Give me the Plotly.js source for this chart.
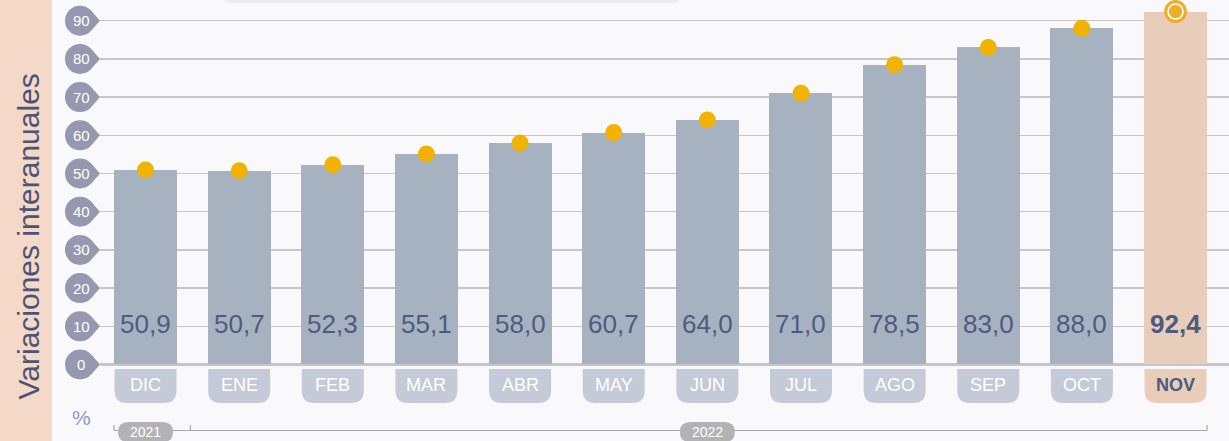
<!DOCTYPE html>
<html>
<head>
<meta charset="utf-8">
<script src="https://cdn.plot.ly/plotly-3.0.1.min.js"></script>
<style>
  html, body { margin: 0; padding: 0; background: #f9f9fb; }
  #chart { width: 1229px; height: 441px; }
</style>
</head>
<body>
<div id="chart"></div>
<script>
// ---- data ----
const months = ['DIC','ENE','FEB','MAR','ABR','MAY','JUN','JUL','AGO','SEP','OCT','NOV'];
const values = [50.9, 50.7, 52.3, 55.1, 58.0, 60.7, 64.0, 71.0, 78.5, 83.0, 88.0, 92.4];
const yTicks = [0, 10, 20, 30, 40, 50, 60, 70, 80, 90];
const yearLabels = ['2021', '2022'];
const yearFirstMonth = [0, 1];
const yearLastMonth = [0, 11];
const yTitle = 'Variaciones interanuales';
const unitLabel = '%';

// ---- style ----
const FONT = 'Liberation Sans, Arial, Helvetica, sans-serif';
const BAR = '#a7b2c0', BAR_HI = '#e8cdbb';
const TAB = '#c4cad7', TAB_HI = '#e9cdb9';
const DOT = '#f1b300', DOT_HI = '#efae2a';
const TXT = '#4e5a80';
const BUBBLE = '#9598ae';
const last = months.length - 1;
const idx = months.map((m, i) => i);
const barW = 0.673;

const traces = [
  {
    type: 'bar', x: idx, y: values, width: barW,
    marker: { color: idx.map(i => i === last ? BAR_HI : BAR), line: { width: 0 } },
    hoverinfo: 'skip'
  },
  {
    type: 'scatter', mode: 'markers', x: idx.slice(0, last), y: values.slice(0, last),
    marker: { size: 17, color: DOT, line: { width: 0 } }, cliponaxis: false, hoverinfo: 'skip'
  },
  {
    type: 'scatter', mode: 'markers', x: [last], y: [values[last]],
    marker: { size: 23, color: DOT_HI, line: { width: 0 } }, cliponaxis: false, hoverinfo: 'skip'
  },
  {
    type: 'scatter', mode: 'markers', x: [last], y: [values[last]],
    marker: { size: 15, color: DOT_HI, line: { width: 1.6, color: '#ffffff' } }, cliponaxis: false, hoverinfo: 'skip'
  }
];

const shapes = [];
const annotations = [];

// left salmon panel
shapes.push({ type: 'rect', xref: 'paper', yref: 'paper', xsizemode: 'pixel', xanchor: 0,
  x0: -100, x1: -48, y0: 0, y1: 1, fillcolor: '#f4d8c8', line: { width: 0 }, layer: 'below' });
// top cut-off box
shapes.push({ type: 'path', xref: 'paper', yref: 'paper', xsizemode: 'pixel', ysizemode: 'pixel',
  xanchor: 0, yanchor: 1,
  path: 'M 123,20 L 123,5 Q 123,-3 131,-3 L 572,-3 Q 580,-3 580,5 L 580,20 Z',
  fillcolor: '#ececf0', line: { width: 0 }, layer: 'above' });

// y tick bubbles
yTicks.forEach(v => {
  shapes.push({ type: 'circle', xref: 'paper', yref: 'y', xsizemode: 'pixel', ysizemode: 'pixel',
    xanchor: 0, yanchor: v, x0: -35, x1: -5, y0: -15, y1: 15,
    fillcolor: BUBBLE, line: { width: 0 }, layer: 'above' });
  shapes.push({ type: 'path', xref: 'paper', yref: 'y', xsizemode: 'pixel', ysizemode: 'pixel',
    xanchor: 0, yanchor: v, path: 'M 0,0 L -8.75,9.9 L -8.75,-9.9 Z',
    fillcolor: BUBBLE, line: { width: 0 }, layer: 'above' });
  annotations.push({ xref: 'paper', yref: 'y', x: 0, y: v, xshift: -19, showarrow: false,
    text: String(v), font: { family: FONT, size: 15, color: '#ffffff' }, xanchor: 'center', yanchor: 'middle' });
});

// month tabs, labels, values
idx.forEach(i => {
  const hi = i === last;
  shapes.push({ type: 'path', xref: 'x', yref: 'y', xsizemode: 'pixel', ysizemode: 'pixel',
    xanchor: i, yanchor: 0,
    path: 'M -31,-4.5 L 31,-4.5 L 31,-26 Q 31,-38.5 18.5,-38.5 L -18.5,-38.5 Q -31,-38.5 -31,-26 Z',
    fillcolor: hi ? TAB_HI : TAB, line: { width: 0 }, layer: 'above' });
  annotations.push({ xref: 'x', yref: 'y', x: i, y: 0, yshift: -21, showarrow: false,
    text: hi ? '<b>' + months[i] + '</b>' : months[i],
    font: { family: FONT, size: 18, color: hi ? TXT : '#ffffff' }, xanchor: 'center', yanchor: 'middle' });
  const lbl = values[i].toFixed(1).replace('.', ',');
  annotations.push({ xref: 'x', yref: 'y', x: i, y: 0, yshift: 40, showarrow: false,
    text: hi ? '<b>' + lbl + '</b>' : lbl,
    font: { family: FONT, size: 26, color: TXT }, xanchor: 'center', yanchor: 'middle' });
});

// year brackets
const bx0 = yearFirstMonth[0] - barW / 2;
const bx1 = yearLastMonth[yearLastMonth.length - 1] + barW / 2;
const bracketTicks = [bx0, bx1];
for (let k = 1; k < yearLabels.length; k++) bracketTicks.push((yearLastMonth[k - 1] + yearFirstMonth[k]) / 2 - 0.02);
const bracketPath = 'M ' + 0 + ',0';
shapes.push({ type: 'line', xref: 'x', yref: 'paper', ysizemode: 'pixel', yanchor: 0,
  x0: bx0, x1: bx1, y0: 10.5, y1: 10.5, line: { color: '#a8a8ac', width: 1.2 }, layer: 'above' });
bracketTicks.forEach(t => {
  shapes.push({ type: 'line', xref: 'x', yref: 'paper', ysizemode: 'pixel', yanchor: 0,
    x0: t, x1: t, y0: 10.5, y1: 16, line: { color: '#a8a8ac', width: 1.2 }, layer: 'above' });
});
yearLabels.forEach((y, k) => {
  const c = (yearFirstMonth[k] + yearLastMonth[k]) / 2;
  shapes.push({ type: 'path', xref: 'x', yref: 'paper', xsizemode: 'pixel', ysizemode: 'pixel',
    xanchor: c, yanchor: 0,
    path: 'M -17,-1 L 17,-1 Q 27.5,-1 27.5,9 Q 27.5,19 17,19 L -17,19 Q -27.5,19 -27.5,9 Q -27.5,-1 -17,-1 Z',
    fillcolor: '#b3b3b5', line: { width: 0 }, layer: 'above' });
  annotations.push({ xref: 'x', yref: 'paper', x: c, y: 0, yshift: 9, showarrow: false, text: y,
    font: { family: FONT, size: 14, color: '#ffffff' }, xanchor: 'center', yanchor: 'middle' });
});

// unit label
annotations.push({ xref: 'paper', yref: 'paper', x: 0, y: 0, xshift: -19, yshift: 24, showarrow: false,
  text: unitLabel, font: { family: FONT, size: 21, color: '#8b9bc8' }, xanchor: 'center', yanchor: 'middle' });
// y title
annotations.push({ xref: 'paper', yref: 'y', x: 0, y: 0, xshift: -72, yshift: 128, showarrow: false,
  text: yTitle, textangle: -90, font: { family: FONT, size: 30, color: '#4b5477' },
  xanchor: 'center', yanchor: 'middle' });

const layout = {
  width: 1229, height: 441,
  margin: { l: 100, r: 0, t: 0, b: 0 },
  paper_bgcolor: '#f9f9fb', plot_bgcolor: '#f9f9fb',
  showlegend: false,
  bargap: 0,
  xaxis: { range: [-0.486, 11.571], showgrid: false, zeroline: false, showticklabels: false, ticks: '', fixedrange: true },
  yaxis: { range: [-20.03, 95.42], tickmode: 'array', tickvals: yTicks, showticklabels: false, ticks: '',
    showgrid: true, gridcolor: '#c6c6ca', gridwidth: 1.3,
    zeroline: true, zerolinecolor: '#c6c6ca', zerolinewidth: 2.5, fixedrange: true },
  shapes: shapes,
  annotations: annotations
};

Plotly.newPlot('chart', traces, layout, { displayModeBar: false, staticPlot: true });
</script>
</body>
</html>
